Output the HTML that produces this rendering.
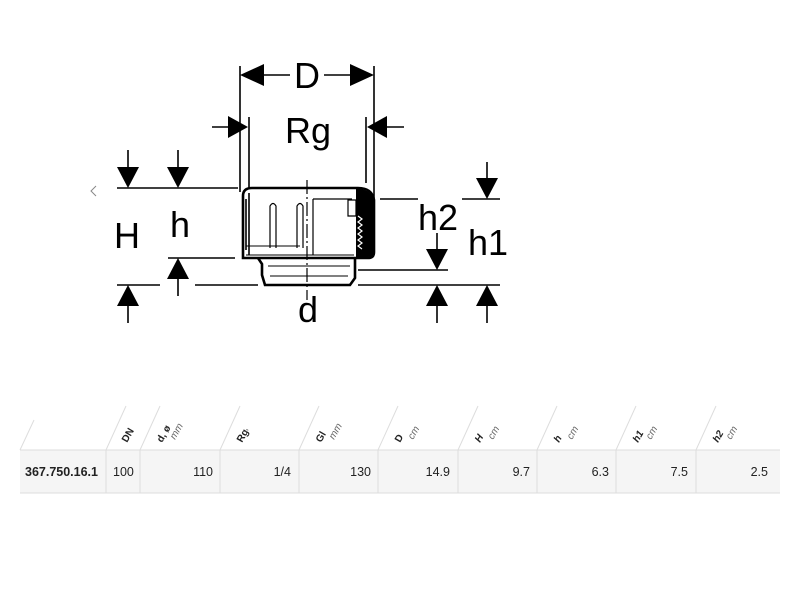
<!DOCTYPE html>
<html><head><meta charset="utf-8"><style>
html,body{margin:0;padding:0;background:#fff;}
svg{display:block;}
</style></head><body>
<svg width="800" height="599" viewBox="0 0 800 599" xmlns="http://www.w3.org/2000/svg" font-family="Liberation Sans, sans-serif">
<g stroke="#000" stroke-width="1.6" fill="none">
<line x1="240" y1="66" x2="240" y2="192"/>
<line x1="374" y1="66" x2="374" y2="200"/>
<path d="M240,75 l24,-11 v22z M374,75 l-24,-11 v22z" fill="#000" stroke="none"/>
<line x1="262" y1="75" x2="290" y2="75"/>
<line x1="324" y1="75" x2="352" y2="75"/>
<line x1="249" y1="117" x2="249" y2="188"/>
<line x1="366" y1="117" x2="366" y2="183"/>
<line x1="212" y1="127" x2="230" y2="127"/>
<path d="M248,127 l-20,-11 v22z" fill="#000" stroke="none"/>
<line x1="385" y1="127" x2="404" y2="127"/>
<path d="M367,127 l20,-11 v22z" fill="#000" stroke="none"/>
<line x1="117" y1="188" x2="238" y2="188"/>
<line x1="128" y1="150" x2="128" y2="170"/>
<path d="M128,188 l-11,-21 h22z" fill="#000" stroke="none"/>
<line x1="178" y1="150" x2="178" y2="170"/>
<path d="M178,188 l-11,-21 h22z" fill="#000" stroke="none"/>
<line x1="168" y1="258" x2="235" y2="258"/>
<path d="M178,258 l-11,21 h22z" fill="#000" stroke="none"/>
<line x1="178" y1="278" x2="178" y2="296"/>
<line x1="117" y1="285" x2="160" y2="285"/>
<line x1="195" y1="285" x2="258" y2="285"/>
<line x1="358" y1="285" x2="500" y2="285"/>
<path d="M128,285 l-11,21 h22z" fill="#000" stroke="none"/>
<line x1="128" y1="304" x2="128" y2="323"/>
<path d="M437,285 l-11,21 h22z" fill="#000" stroke="none"/>
<line x1="437" y1="304" x2="437" y2="323"/>
<path d="M487,285 l-11,21 h22z" fill="#000" stroke="none"/>
<line x1="487" y1="304" x2="487" y2="323"/>
<line x1="380" y1="199" x2="418" y2="199"/>
<line x1="462" y1="199" x2="500" y2="199"/>
<line x1="487" y1="162" x2="487" y2="180"/>
<path d="M487,199 l-11,-21 h22z" fill="#000" stroke="none"/>
<line x1="358" y1="270" x2="448" y2="270"/>
<line x1="437" y1="233" x2="437" y2="252"/>
<path d="M437,270 l-11,-21 h22z" fill="#000" stroke="none"/>
<path d="M243,196 Q243,188 252,188 H358 Q372,188 374,200 V252 Q374,258 368,258 H243 Z" stroke-width="2.6"/>
<path d="M356,189 H360 Q372,190 374,202 V252 Q374,257 368,257 H356 Z" fill="#000" stroke="none"/>
<path d="M246,199 V250 M249,193 V255"/>
<line x1="246" y1="255" x2="354" y2="255" stroke-width="1"/>
<line x1="246" y1="246" x2="300" y2="246" stroke-width="1"/>
<path d="M270,248 V206 Q273,201 276,206 V248" stroke-width="1.2"/>
<path d="M297,248 V206 Q300,201 303,206 V248" stroke-width="1.2"/>
<path d="M313,199 H352 M313,255 V199" stroke-width="1.2"/>
<path d="M348,200 h8 v16 h-8z" fill="#fff" stroke-width="1.2"/>
<path d="M358,216 l4,3 l-4,3 l4,3 l-4,3 l4,3 l-4,3 l4,3 l-4,3 l4,3 l-4,3 l4,3" stroke="#fff" stroke-width="1.2"/>
<path d="M258,258 L262,264 V275 L265,285 H350 L355,278 V258" stroke-width="2.6"/>
<line x1="268" y1="266" x2="350" y2="266" stroke-width="1"/>
<line x1="270" y1="276" x2="348" y2="276" stroke-width="1"/>
<line x1="307" y1="180" x2="307" y2="300" stroke-width="1.2" stroke-dasharray="14,3,2,3"/>
</g>
<g font-size="36" text-anchor="middle" fill="#000">
<text x="307" y="88">D</text>
<text x="308" y="143">Rg</text>
<text x="127" y="248">H</text>
<text x="180" y="237">h</text>
<text x="438" y="230">h2</text>
<text x="488" y="255">h1</text>
<text x="308" y="322">d</text>
</g>
<path d="M96,186 l-5,5 l5,5" stroke="#888" stroke-width="1" fill="none"/>
<rect x="20" y="450" width="760" height="43" fill="#f5f5f5"/>
<g stroke="#ddd" stroke-width="1">
<line x1="20" y1="450" x2="780" y2="450"/>
<line x1="20" y1="493" x2="780" y2="493"/>
<line x1="106" y1="450" x2="106" y2="493"/><line x1="140" y1="450" x2="140" y2="493"/>
<line x1="220" y1="450" x2="220" y2="493"/><line x1="299" y1="450" x2="299" y2="493"/>
<line x1="378" y1="450" x2="378" y2="493"/><line x1="458" y1="450" x2="458" y2="493"/>
<line x1="537" y1="450" x2="537" y2="493"/><line x1="616" y1="450" x2="616" y2="493"/>
<line x1="696" y1="450" x2="696" y2="493"/>
<line x1="20" y1="450" x2="34" y2="420"/><line x1="106" y1="450" x2="126" y2="406"/>
<line x1="140" y1="450" x2="160" y2="406"/><line x1="220" y1="450" x2="240" y2="406"/>
<line x1="299" y1="450" x2="319" y2="406"/><line x1="378" y1="450" x2="398" y2="406"/>
<line x1="458" y1="450" x2="478" y2="406"/><line x1="537" y1="450" x2="557" y2="406"/>
<line x1="616" y1="450" x2="636" y2="406"/><line x1="696" y1="450" x2="716" y2="406"/>
</g>
<g font-size="12.5" fill="#222">
<text x="25" y="476" font-weight="bold">367.750.16.1</text>
<text x="113" y="476">100</text>
<text x="213" y="476" text-anchor="end">110</text>
<text x="291" y="476" text-anchor="end">1/4</text>
<text x="371" y="476" text-anchor="end">130</text>
<text x="450" y="476" text-anchor="end">14.9</text>
<text x="530" y="476" text-anchor="end">9.7</text>
<text x="609" y="476" text-anchor="end">6.3</text>
<text x="688" y="476" text-anchor="end">7.5</text>
<text x="768" y="476" text-anchor="end">2.5</text>
</g>
<g font-size="10" fill="#222">
<text transform="translate(127,443) rotate(-60)" font-weight="bold">DN</text>
<text transform="translate(162,443) rotate(-60)" font-weight="bold">d, ø</text>
<text transform="translate(175,440) rotate(-60)" font-style="italic" fill="#666">mm</text>
<text transform="translate(242,443) rotate(-60)" font-weight="bold">Rg</text>
<text transform="translate(251,435) rotate(-60)" fill="#666">"</text>
<text transform="translate(321,443) rotate(-60)" font-weight="bold">Gl</text>
<text transform="translate(334,440) rotate(-60)" font-style="italic" fill="#666">mm</text>
<text transform="translate(400,443) rotate(-60)" font-weight="bold">D</text>
<text transform="translate(413,440) rotate(-60)" font-style="italic" fill="#666">cm</text>
<text transform="translate(480,443) rotate(-60)" font-weight="bold" font-style="italic">H</text>
<text transform="translate(493,440) rotate(-60)" font-style="italic" fill="#666">cm</text>
<text transform="translate(559,443) rotate(-60)" font-weight="bold" font-style="italic">h</text>
<text transform="translate(572,440) rotate(-60)" font-style="italic" fill="#666">cm</text>
<text transform="translate(638,443) rotate(-60)" font-weight="bold" font-style="italic">h1</text>
<text transform="translate(651,440) rotate(-60)" font-style="italic" fill="#666">cm</text>
<text transform="translate(718,443) rotate(-60)" font-weight="bold" font-style="italic">h2</text>
<text transform="translate(731,440) rotate(-60)" font-style="italic" fill="#666">cm</text>
</g>
</svg>
</body></html>
